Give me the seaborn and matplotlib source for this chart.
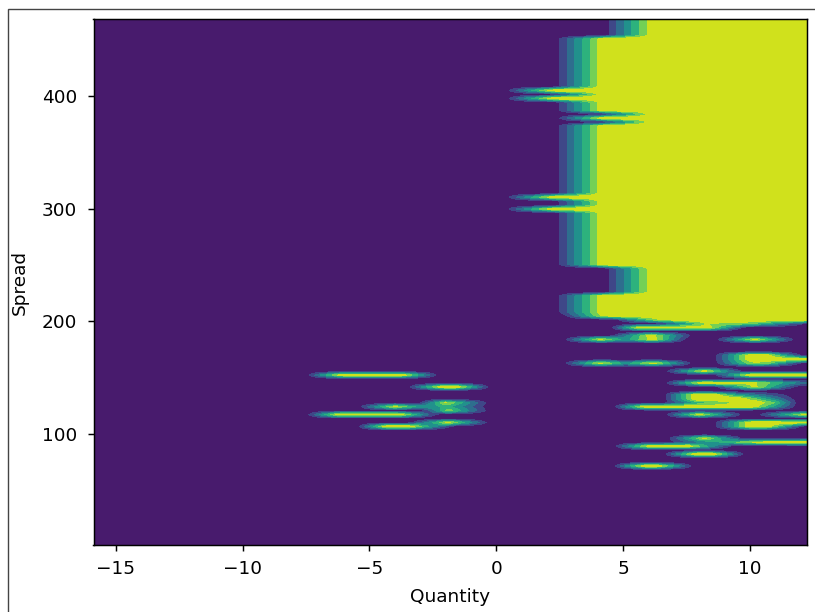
import numpy as np
import matplotlib
matplotlib.use("Agg")
import matplotlib.pyplot as plt
import seaborn as sns
from matplotlib.patches import Rectangle

# ---------------- data ----------------
# grid of the surface (quantity on x, spread on y)
quantity = np.linspace(-15.875, 12.25, 226)
spread = np.linspace(1.0, 468.5, 134)

# large high-valued plateau: spread bands and the quantity where the rise starts
band_lo = [208.5, 226.0, 251.0, 453.5]
band_hi = [223.5, 248.5, 451.0, 468.5]
band_edge = [2.2, 4.15, 2.2, 4.15]
rise_len = 2.1
# single spread rows inside the plateau with a different rise start
edge_row_spread = [298.5, 311.0, 376.0, 383.5, 398.5, 403.5]
edge_row_q = [0.2, 0.2, 4.15, 4.15, 0.2, 0.2]

# isolated ridges: spread row, quantity knots, values at knots
stripe_spread = [
    206.0, 203.5, 201.0, 198.5,
    193.5, 188.5, 183.5, 183.5,
    171.0, 168.5, 166.0, 163.5, 161.0,
    156.0, 153.5, 151.0, 146.0, 141.0,
    136.0, 133.5, 131.0, 128.5,
    123.5, 118.5, 116.0, 111.0, 108.5, 106.0,
    96.0, 93.5, 88.5, 83.5, 71.0,
    151.0, 141.0, 126.0, 123.5, 121.0, 118.5, 108.5, 106.0,
]
stripe_q = [
    [2.5, 4.2, 5.4, 12.25], [3.0, 4.5, 5.5, 6.5, 12.25], [4.5, 6.3, 7.5, 12.25], [6.3, 8.3, 10.0, 12.25],
    [4.4, 5.6, 8.4, 9.9], [4.4, 6.1, 7.9], [2.5, 4.1, 5.1, 6.2, 7.6], [8.5, 10.2, 11.95],
    [8.46, 10.06, 10.6, 12.2], [8.46, 10.06, 10.6, 12.2], [8.46, 10.06, 12.25], [8.46, 10.06, 10.6, 12.2], [2.5, 4.1, 5.1, 6.2, 7.9],
    [6.5, 8.2, 9.9], [8.46, 10.06, 12.25], [8.46, 10.06, 12.25], [6.5, 8.1, 10.1, 12.25], [8.46, 10.2, 12.0],
    [6.5, 7.9, 8.5, 9.5, 11.0, 12.0], [6.5, 7.9, 8.5, 9.5, 11.0, 12.0], [6.5, 7.9, 9.5, 10.5, 12.0], [6.5, 7.9, 10.2, 11.0, 12.0],
    [4.5, 5.8, 10.1, 12.0], [10.1, 12.25], [6.5, 8.0, 9.9], [8.46, 10.06, 12.25], [8.46, 10.06, 10.6, 12.2], [8.46, 10.06, 10.6, 12.2],
    [6.6, 8.2, 9.9], [6.5, 8.5, 10.3, 12.25], [4.5, 6.0, 7.6, 9.5], [6.5, 7.9, 8.5, 9.9], [4.5, 5.9, 6.3, 7.9],
    [-7.6, -6.1, -3.7, -2.15], [-3.6, -2.1, -1.6, -0.12], [-3.14, -2.0, -0.12], [-5.57, -4.0, -3.0, -1.9, -0.12],
    [-3.0, -1.9, -0.12], [-7.6, -6.2, -3.8, -2.15], [-3.5, -1.9, -0.12], [-5.57, -4.3, -3.5, -1.56],
]
stripe_z = [
    [0, 0.9, 1, 1], [0, 0.5, 0.85, 1, 1], [0, 0.82, 1, 1], [0, 0.86, 0.75, 0.1],
    [0, 0.92, 0.92, 0], [0, 0.95, 0], [0, 0.9, 0.5, 0.95, 0], [0, 0.92, 0],
    [0, 1, 1, 0], [0, 1, 1, 0], [0, 1, 0.95], [0, 0.8, 0.8, 0], [0, 0.9, 0.5, 0.92, 0],
    [0, 0.92, 0], [0, 0.7, 0.9], [0, 1, 1], [0, 0.95, 0.9, 0.3], [0, 0.9, 0],
    [0, 1, 1, 0.5, 0.2, 0], [0, 1, 1, 0.5, 0.2, 0], [0, 1, 1, 0.6, 0], [0, 0.6, 1, 0.7, 0],
    [0, 0.95, 0.95, 0], [0, 0.95], [0, 0.92, 0], [0, 1, 0.95], [0, 1, 1, 0], [0, 1, 1, 0],
    [0, 0.9, 0], [0, 0.5, 0.9, 1], [0, 0.92, 0.92, 0], [0, 1, 1, 0], [0, 1, 1, 0],
    [0, 0.95, 0.95, 0], [0, 1, 1, 0], [0, 0.88, 0], [0, 0.9, 0.5, 0.6, 0],
    [0, 0.8, 0], [0, 0.95, 0.95, 0], [0, 0.92, 0], [0, 1, 1, 0],
]

# ---------------- build surface ----------------
Z = np.zeros((len(spread), len(quantity)))
for lo, hi, e in zip(band_lo, band_hi, band_edge):
    rows = (spread >= lo - 1.0) & (spread <= hi + 1.0)
    Z[rows] = np.maximum(Z[rows], np.interp(quantity, [e, e + rise_len], [0, 1]))
for s, e in zip(edge_row_spread, edge_row_q):
    i = int(np.argmin(np.abs(spread - s)))
    Z[i] = np.interp(quantity, [e, e + rise_len], [0, 1])
for s, qs, zs in zip(stripe_spread, stripe_q, stripe_z):
    i = int(np.argmin(np.abs(spread - s)))
    Z[i] = np.maximum(Z[i], np.interp(quantity, qs, zs, left=0, right=zs[-1]))

# ---------------- plot ----------------
fs = 13.3
sns.set_theme(style="ticks", rc={
    "axes.edgecolor": "black", "xtick.color": "black", "ytick.color": "black",
    "text.color": "black", "axes.labelcolor": "black",
    "font.size": fs, "axes.labelsize": fs,
    "xtick.labelsize": fs, "ytick.labelsize": fs,
    "xtick.major.size": 4.65, "ytick.major.size": 4.65,
    "xtick.major.pad": 6.0, "ytick.major.pad": 7.0,
    "xtick.major.width": 1.06, "ytick.major.width": 1.06,
    "axes.linewidth": 1.06,
})
plt.rcParams["font.family"] = ["DejaVu Sans"]

fig = plt.figure(figsize=(8.15, 6.12), dpi=100)
ax = fig.add_axes([93.5 / 815, 1 - 545 / 612, (807 - 93.5) / 815, (545 - 19.3) / 612])
cmap = sns.color_palette("viridis", as_cmap=True)
ax.contourf(quantity, spread, Z, levels=np.linspace(0, 1, 8), cmap=cmap)
ax.set_xlabel("Quantity", labelpad=7.0)
ax.set_ylabel("Spread", labelpad=9.5)

fig.add_artist(Rectangle((8 / 815, -0.05), 1.2, 1 - 9 / 612 + 0.05,
                         transform=fig.transFigure, fill=False,
                         edgecolor="#444444", linewidth=1.0, clip_on=False))

fig.savefig("out.png", dpi=100)
